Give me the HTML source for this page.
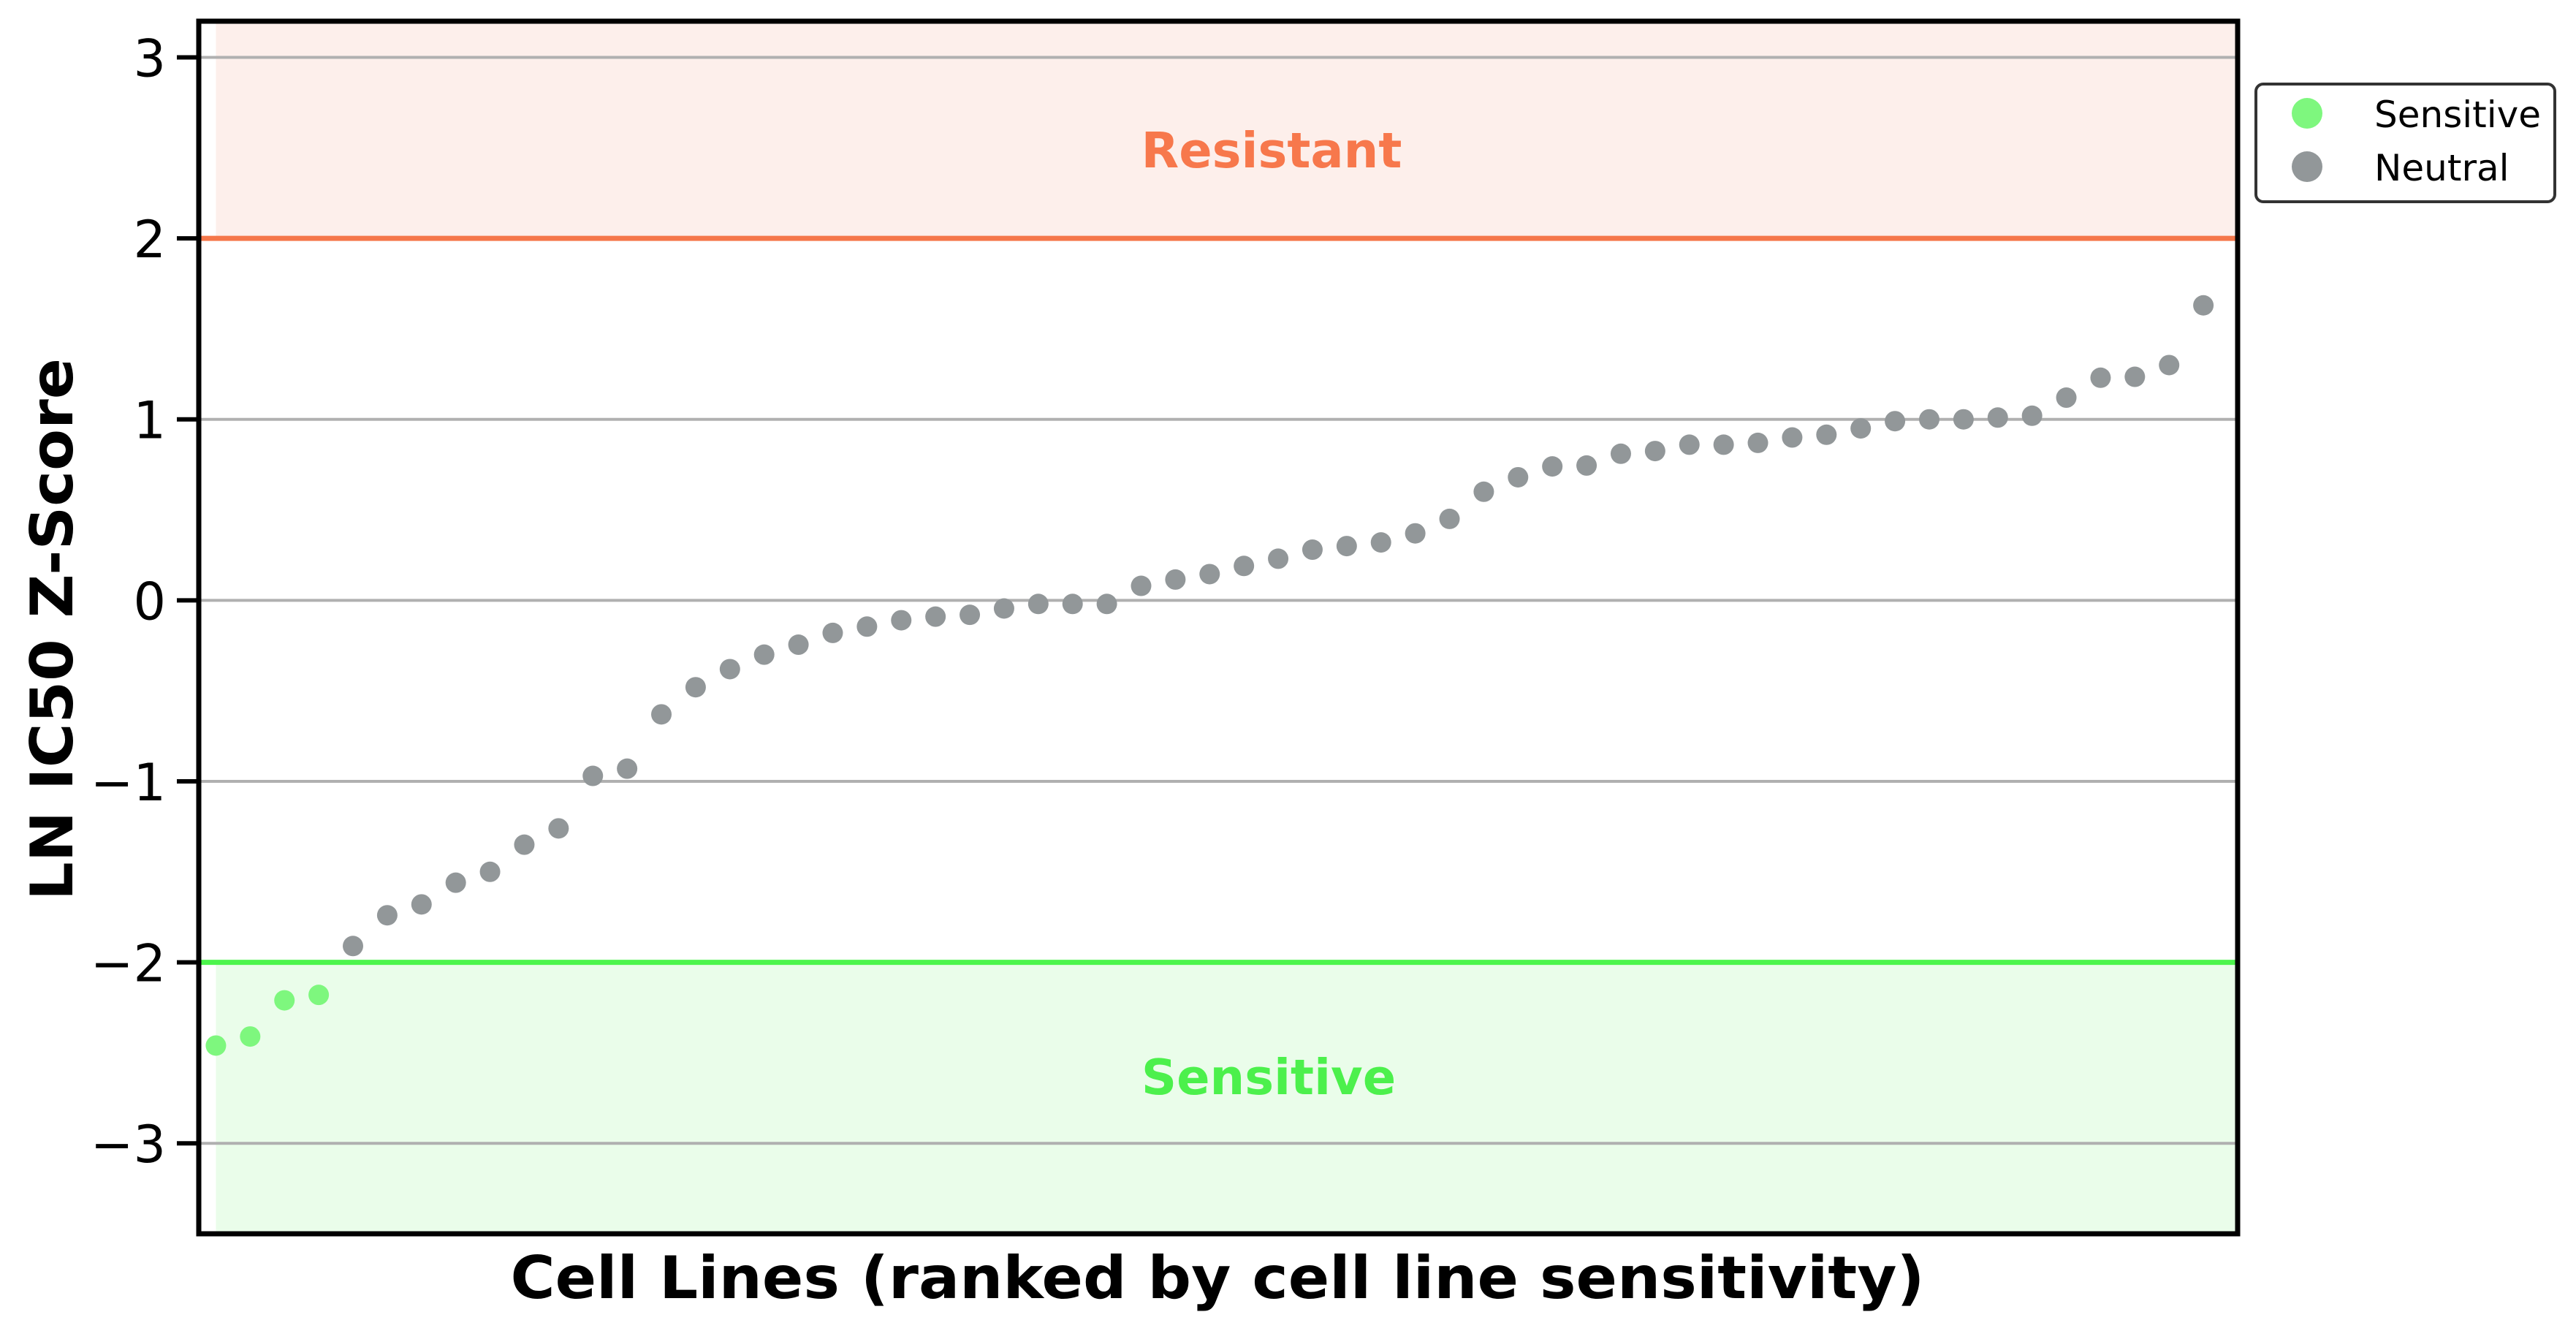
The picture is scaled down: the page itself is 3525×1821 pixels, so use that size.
<!DOCTYPE html>
<html><head><meta charset="utf-8"><style>
html,body{margin:0;padding:0;background:#fff;}
svg{display:block;font-family:"DejaVu Sans","Liberation Sans",sans-serif;}
</style></head><body>
<svg id="chart" width="3525" height="1821" viewBox="0 0 3525 1821" xmlns="http://www.w3.org/2000/svg">
<g id="plot"></g>
</svg>
<script>
const zscores = [-2.46,-2.41,-2.21,-2.18,-1.91,-1.74,-1.68,-1.56,-1.50,-1.35,-1.26,-0.97,-0.93,-0.63,-0.48,-0.38,-0.30,-0.245,-0.18,-0.145,-0.11,-0.09,-0.08,-0.045,-0.02,-0.02,-0.02,0.08,0.115,0.145,0.19,0.23,0.28,0.30,0.32,0.37,0.45,0.60,0.68,0.74,0.745,0.81,0.825,0.86,0.86,0.87,0.90,0.915,0.95,0.99,1.00,1.00,1.01,1.02,1.12,1.23,1.235,1.30,1.63];
const yTicks = [3,2,1,0,-1,-2,-3];
const yTickLabels = ["3","2","1","0","\u22121","\u22122","\u22123"];
const thresholds = [2,-2];
const legendLabels = ["Sensitive","Neutral"];

const NS="http://www.w3.org/2000/svg";
const L=272,R=3062,T=29,B=1688;
const xMin=-0.5,xMax=zscores.length,yMin=-3.5,yMax=3.2;
const xs=v=>L+(v-xMin)/(xMax-xMin)*(R-L);
const ys=v=>T+(yMax-v)/(yMax-yMin)*(B-T);
const g=document.getElementById('plot');
function mk(tag,attrs,parent){const e=document.createElementNS(NS,tag);for(const k in attrs)e.setAttribute(k,attrs[k]);(parent||g).appendChild(e);return e;}

let e=mk('rect',{x:xs(0),y:T,width:R-xs(0),height:ys(thresholds[0])-T,fill:'#fdefeb'});


e=mk('rect',{x:xs(0),y:ys(thresholds[1]),width:R-xs(0),height:B-ys(thresholds[1]),fill:'#eafdea'});



yTicks.forEach((t,i)=>{
  const l=mk('line',{x1:L,x2:R,y1:ys(t),y2:ys(t),stroke:'#b0b0b0','stroke-width':4});
  
  
});
e=mk('line',{x1:L,x2:R,y1:ys(thresholds[0]),y2:ys(thresholds[0]),stroke:'#f5774a','stroke-width':7});


e=mk('line',{x1:L,x2:R,y1:ys(thresholds[1]),y2:ys(thresholds[1]),stroke:'#4cf54c','stroke-width':7});



e=mk('text',{x:1740,y:229,'text-anchor':'middle','font-size':67,'font-weight':'bold',fill:'#f7784c'});
e.textContent='Resistant';


e=mk('text',{x:1736,y:1497,'text-anchor':'middle','font-size':67,'font-weight':'bold',fill:'#4cf04c'});
e.textContent='Sensitive';



zscores.forEach((v,i)=>{
  const c=mk('circle',{cx:xs(i),cy:ys(v),r:14,fill:v<thresholds[1]?'#7ef77e':'#929799'});
  
  
});

e=mk('rect',{x:L,y:T,width:R-L,height:B-T,fill:'none',stroke:'#000','stroke-width':7});



yTicks.forEach((t,i)=>{
  const tk=mk('line',{x1:L-30,x2:L,y1:ys(t),y2:ys(t),stroke:'#000','stroke-width':6});
  
  
  const tx=mk('text',{x:227,y:ys(t)+26,'text-anchor':'end','font-size':70,fill:'#000'});
  tx.textContent=yTickLabels[i];
  
  
});

e=mk('text',{x:0,y:0,'font-size':80,'font-weight':'bold','text-anchor':'middle',textLength:742,lengthAdjust:'spacingAndGlyphs',transform:'translate(99,861) rotate(-90)'});
e.textContent='LN IC50 Z-Score';


e=mk('text',{x:1666,y:1776,'font-size':80,'font-weight':'bold','text-anchor':'middle',textLength:1935,lengthAdjust:'spacingAndGlyphs'});
e.textContent='Cell Lines (ranked by cell line sensitivity)';



const lg=mk('g',{});


e=mk('rect',{x:3087,y:115,width:409,height:161,rx:10,fill:'#fff',stroke:'#333','stroke-width':4},lg);


const lcol=['#7ef77e','#929799'];
legendLabels.forEach((lab,i)=>{
  const c=mk('circle',{cx:3157,cy:155+i*73,r:21,fill:lcol[i]},lg);
  
  
  const t=mk('text',{x:3249,y:174+i*73,'font-size':50,fill:'#000'},lg);
  t.textContent=lab;
  
  
});
</script>
</body></html>
